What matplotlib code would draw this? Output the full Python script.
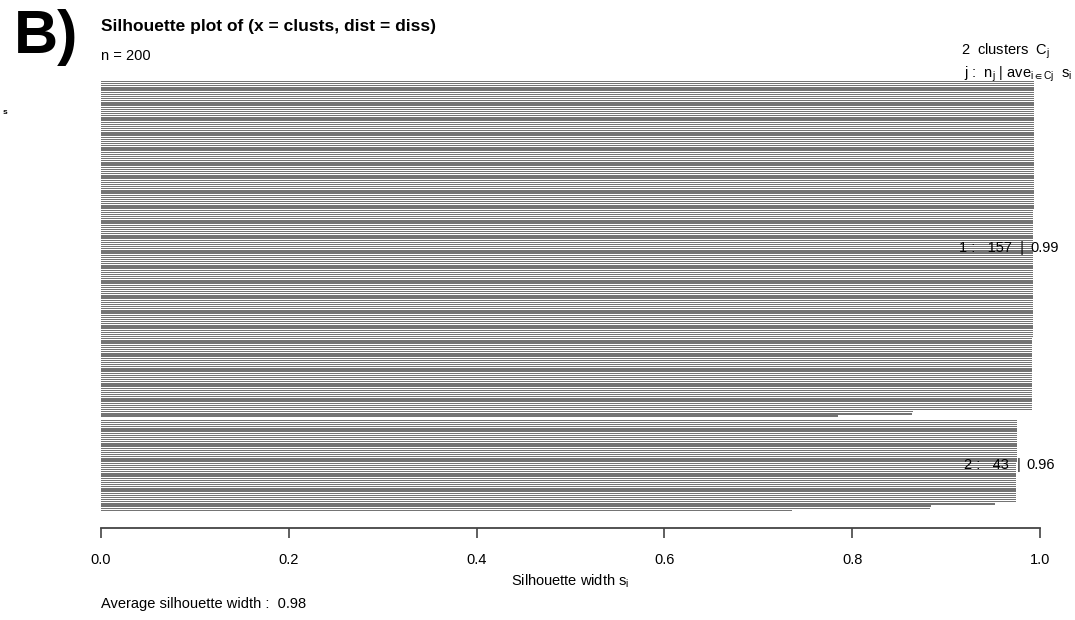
import matplotlib
matplotlib.use("Agg")
import matplotlib.pyplot as plt

plt.rcParams['font.family'] = ['Liberation Sans', 'DejaVu Sans']
plt.rcParams['mathtext.fontset'] = 'custom'
plt.rcParams['mathtext.rm'] = 'Liberation Sans'
plt.rcParams['mathtext.it'] = 'Liberation Sans'

# silhouette widths, sorted within each cluster
clus1 = [0.994] * 60 + [0.993] * 60 + [0.992] * 34 + [0.865, 0.864, 0.785]
clus2 = [0.975] * 20 + [0.974] * 19 + [0.952, 0.884, 0.883, 0.736]
clus_ave = [0.99, 0.96]
avg_width = 0.98
xticks = [0.0, 0.2, 0.4, 0.6, 0.8, 1.0]

fs = 10.5

fig = plt.figure(figsize=(10.75, 6.2), dpi=100)
ax = fig.add_axes([101/1075, 1 - 528/620, 939/1075, 448/620])

# bottom up: cluster 2 (reversed), one-slot gap, cluster 1 (reversed)
ypos = []
vals = []
y = 0
for v in clus2[::-1]:
    ypos.append(y); vals.append(v); y += 1
y += 1
c2_mid = len(clus2) / 2
for v in clus1[::-1]:
    ypos.append(y); vals.append(v); y += 1
c1_mid = len(clus2) + 1 + len(clus1) / 2
top = y

ax.barh(ypos, vals, height=0.6, align='edge', color='#747474', linewidth=0)

ax.set_xlim(0, 1)
ax.set_ylim(-7.9, top)
for s in ['top', 'right', 'left']:
    ax.spines[s].set_visible(False)
ax.spines['bottom'].set_bounds(0, 1)
ax.spines['bottom'].set_color('#444444')
ax.spines['bottom'].set_linewidth(1.3)
ax.set_yticks([])
ax.set_xticks(xticks)
ax.set_xticklabels(['%.1f' % t for t in xticks], fontsize=fs)
ax.tick_params(axis='x', length=7, width=1.2, color='#444444', pad=11)
ax.set_xlabel(r'Silhouette width $\mathregular{s_i}$', fontsize=fs, labelpad=4)

# cluster annotations
ax.text(0.983, c1_mid, '1 :   %d  |' % len(clus1), ha='right', va='center',
        fontsize=fs, clip_on=False)
ax.text(0.990, c1_mid, '%.2f' % clus_ave[0], ha='left', va='center',
        fontsize=fs, clip_on=False)
ax.text(0.979, c2_mid, '2 :   %d  |' % len(clus2), ha='right', va='center',
        fontsize=fs, clip_on=False)
ax.text(0.985, c2_mid, '%.2f' % clus_ave[1], ha='left', va='center',
        fontsize=fs, clip_on=False)

fig.text(14/1075, 1 - 37/620, 'B)', fontsize=44, fontweight='bold',
         ha='left', va='center')
fig.text(3/1075, 1 - 113/620, 's', fontsize=6, fontweight='bold',
         ha='left', va='center')
fig.text(101/1075, 1 - 27/620, 'Silhouette plot of (x = clusts, dist = diss)',
         fontsize=12.5, fontweight='bold', ha='left', va='center')
fig.text(101/1075, 1 - 56/620, 'n = 200', fontsize=fs, ha='left', va='center')
fig.text(1050/1075, 1 - 51/620, r'2  clusters  $\mathregular{C_j}$',
         fontsize=fs, ha='right', va='center')
fig.text(1072/1075, 1 - 74/620,
         r'j :  $\mathregular{n_j}$ | $\mathregular{ave_{i \in Cj}}$  $\mathregular{s_i}$',
         fontsize=fs, ha='right', va='center')
fig.text(101/1075, 1 - 604/620, 'Average silhouette width :  %.2f' % avg_width,
         fontsize=fs, ha='left', va='center')

fig.savefig('out.png', dpi=100)
